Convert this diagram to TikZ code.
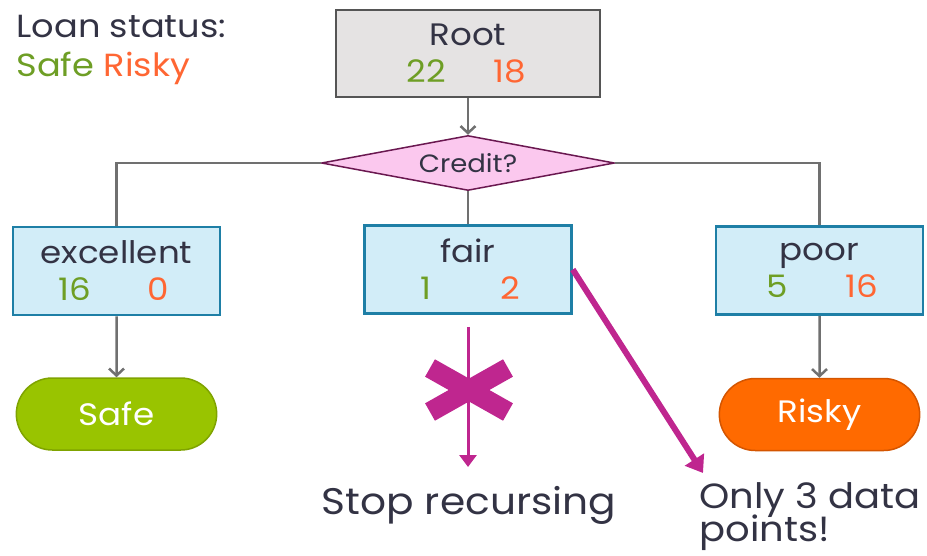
\documentclass[tikz,border=0pt]{standalone}
\usepackage{fontspec}
\setmainfont{Poppins}[FakeStretch=1.1]
\usetikzlibrary{shapes.geometric,shapes.misc,arrows.meta}

\definecolor{safegreen}{HTML}{6E9E25}
\definecolor{riskyorange}{HTML}{FF6633}
\definecolor{inkgray}{HTML}{333344}
\definecolor{rootfill}{HTML}{E5E3E3}
\definecolor{rootline}{HTML}{555555}
\definecolor{leaffill}{HTML}{D2EDF8}
\definecolor{leafline}{HTML}{1E7FA6}
\definecolor{credfill}{HTML}{FBC8EE}
\definecolor{credline}{HTML}{6A1850}
\definecolor{stopmag}{HTML}{BF268F}
\definecolor{safefill}{HTML}{99C400}
\definecolor{safeline}{HTML}{7FA300}
\definecolor{riskyfill}{HTML}{FF6A00}
\definecolor{riskyline}{HTML}{D45500}
\definecolor{linkgray}{HTML}{707070}

\newcommand{\splitcounts}[2]{\makebox[84pt]{\color{safegreen}#1}\makebox[84pt]{\color{riskyorange}#2}}

\tikzset{
  boxfont/.style={font=\fontsize{31}{37}\selectfont, text=inkgray, align=center},
  rootbox/.style={boxfont, draw=rootline, fill=rootfill, line width=2.5pt,
    minimum width=264pt, minimum height=87pt, inner sep=0pt},
  leafbox/.style={boxfont, draw=leafline, fill=leaffill, line width=2.5pt,
    minimum width=207pt, minimum height=88pt, inner sep=0pt},
  splitbox/.style={diamond, draw=credline, fill=credfill, line width=1.5pt,
    aspect=5.3, minimum width=293pt, minimum height=55pt, inner sep=0pt,
    font=\fontsize{25}{28}\selectfont, text=inkgray},
  leafpill/.style={rounded rectangle, line width=1.5pt, minimum width=207pt,
    minimum height=72pt, font=\fontsize{31}{34}\selectfont, text=white},
  link/.style={linkgray, line width=2.5pt},
  linkarrow/.style={link, -{Straight Barb[length=7pt,width=15pt]}},
  bigtext/.style={font=\fontsize{37}{42}\selectfont, text=inkgray, anchor=base west},
  legendtext/.style={font=\fontsize{32}{38}\selectfont, text=inkgray, anchor=base west},
}

\begin{document}
\begin{tikzpicture}[x=1pt, y=-1pt]
    \useasboundingbox (0,0) rectangle (927,555);

    % Legend
    \node[legendtext] (legend) at (13,37) {Loan status:};
    \node[legendtext] (legendkey) at (13,76)
        {\textcolor{safegreen}{Safe} \textcolor{riskyorange}{Risky}};

    % Root and split
    \node[rootbox] (root) at (468,53.5) {Root\\\splitcounts{22}{18}};
    \node[splitbox] (credit) at (468,163) {Credit?};
    \draw[linkarrow] (root) -- (credit.north);

    % Branches
    \node[leafbox] (excellent) at (116.5,271) {excellent\\\splitcounts{16}{0}};
    \node[leafbox] (fair) at (468,269.5) {fair\\\splitcounts{1}{2}};
    \node[leafbox] (poor) at (819.5,270.5) {poor\\\splitcounts{5}{16}};
    \draw[link] (credit.west) -| (excellent.north);
    \draw[link] (credit.south) -- (fair.north);
    \draw[link] (credit.east) -| (poor.north);

    % Leaves
    \node[leafpill, draw=safeline, fill=safefill] (safe) at (116.5,414) {Safe};
    \node[leafpill, draw=riskyline, fill=riskyfill] (risky) at (819.5,414.5) {Risky};
    \draw[linkarrow] (excellent) -- (safe);
    \draw[linkarrow] (poor) -- (risky);

    % Stop recursing
    \coordinate (stopend) at (468,467);
    \coordinate (stopx) at (469,390);
    \draw[stopmag, line width=3pt, -{Triangle[length=12pt,width=17pt]}]
        ([yshift=-12pt]fair.south) -- (stopend);
    \draw[stopmag, line width=20pt] ([shift={(-39pt,22pt)}]stopx) -- ([shift={(39pt,-22pt)}]stopx);
    \draw[stopmag, line width=20pt] ([shift={(-39pt,-22pt)}]stopx) -- ([shift={(39pt,22pt)}]stopx);
    \node[bigtext, anchor=base] (stoptext) at (469,514) {Stop recursing};

    % Too few points
    \coordinate (fewend) at (703,473);
    \draw[stopmag, line width=6pt, -{Triangle[length=16pt,width=22pt]}] (fair.east) -- (fewend);
    \node[bigtext, font=\fontsize{35}{40}\selectfont] (fewtext) at (696,508) {Only 3 data};
    \node[bigtext, font=\fontsize{35}{40}\selectfont] (fewtext2) at (696,541) {points!};

\end{tikzpicture}
\end{document}
